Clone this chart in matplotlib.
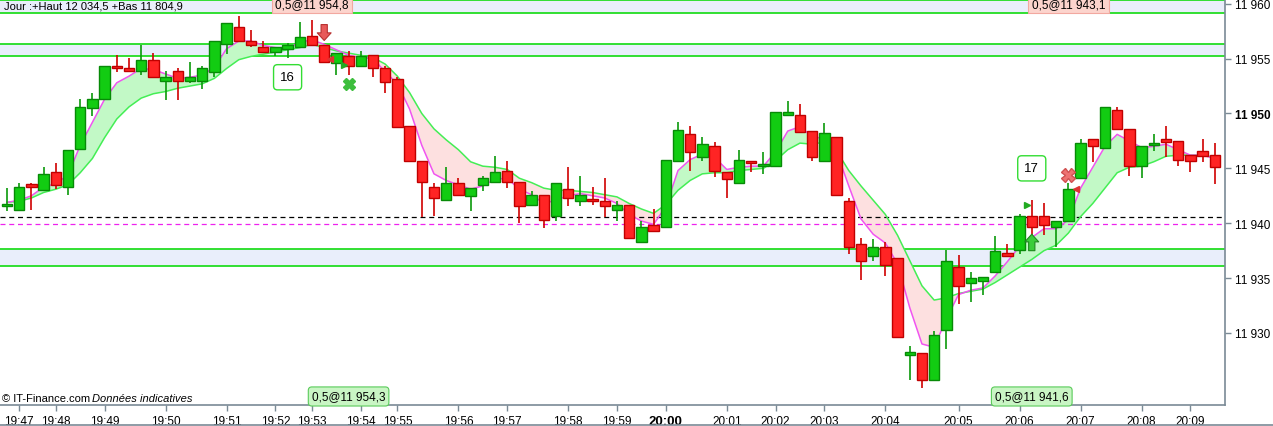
import matplotlib
matplotlib.use("Agg")
import matplotlib.pyplot as plt
import matplotlib.transforms as mtransforms
from matplotlib.lines import Line2D
import numpy as np

plt.rcParams['font.family'] = ['Liberation Sans', 'DejaVu Sans']

# ---------------- data ----------------
opens = [11941.6, 11941.2, 11943.6, 11943.0, 11944.7, 11943.3, 11946.8, 11950.5, 11951.3, 11954.3,
         11954.1, 11953.9, 11954.9, 11953.0, 11953.9, 11953.0, 11953.0, 11953.8, 11956.3, 11957.9,
         11956.6, 11956.1, 11955.6, 11955.9, 11956.1, 11957.1, 11956.2, 11954.6, 11955.2, 11954.3,
         11955.3, 11954.1, 11953.1, 11948.9, 11945.7, 11943.3, 11942.1, 11943.7, 11942.5, 11943.5,
         11943.8, 11944.8, 11943.8, 11941.7, 11942.6, 11940.7, 11943.1, 11942.0, 11942.2, 11942.0,
         11941.2, 11941.7, 11938.3, 11939.8, 11939.7, 11945.7, 11948.1, 11946.0, 11947.0, 11944.7,
         11943.7, 11945.7, 11945.2, 11945.2, 11949.9, 11949.9, 11948.4, 11945.7, 11947.9, 11942.0,
         11938.1, 11937.0, 11937.8, 11936.8, 11928.0, 11928.2, 11925.7, 11930.3, 11936.0, 11934.6,
         11934.7, 11935.6, 11937.3, 11937.6, 11940.7, 11940.7, 11939.7, 11940.2, 11944.1, 11947.7,
         11946.9, 11950.3, 11948.6, 11945.2, 11947.1, 11947.7, 11947.5, 11946.2, 11946.6, 11946.2]
highs = [11943.2, 11943.7, 11943.7, 11945.1, 11945.5, 11946.7, 11951.3, 11951.9, 11954.3, 11955.3,
         11955.1, 11956.2, 11955.5, 11953.9, 11954.1, 11954.7, 11954.3, 11956.6, 11958.2, 11958.9,
         11957.6, 11956.6, 11956.1, 11956.4, 11958.3, 11958.5, 11956.2, 11955.5, 11955.7, 11955.7,
         11955.3, 11954.3, 11953.3, 11948.9, 11945.7, 11943.7, 11945.1, 11944.1, 11943.2, 11944.3,
         11946.1, 11945.7, 11943.8, 11942.9, 11942.6, 11943.7, 11945.1, 11944.3, 11943.3, 11944.1,
         11942.0, 11941.7, 11940.2, 11941.3, 11945.8, 11949.2, 11948.9, 11947.9, 11947.4, 11944.7,
         11946.7, 11945.7, 11946.5, 11950.1, 11951.1, 11950.9, 11948.4, 11949.1, 11947.9, 11942.3,
         11938.7, 11938.6, 11938.3, 11936.8, 11928.8, 11928.2, 11930.2, 11937.6, 11937.1, 11935.6,
         11935.1, 11938.8, 11938.1, 11940.8, 11942.1, 11941.8, 11940.2, 11943.7, 11947.7, 11947.7,
         11950.6, 11950.6, 11948.6, 11947.0, 11948.1, 11948.9, 11947.5, 11946.2, 11947.7, 11947.3]
lows = [11941.1, 11941.2, 11941.2, 11943.0, 11943.1, 11942.6, 11946.8, 11949.8, 11951.3, 11953.8,
        11953.9, 11953.5, 11953.3, 11951.2, 11951.2, 11952.8, 11952.2, 11953.3, 11955.4, 11956.6,
        11956.1, 11955.6, 11955.2, 11955.1, 11956.1, 11956.2, 11954.7, 11953.5, 11953.5, 11954.3,
        11953.3, 11951.9, 11948.8, 11945.7, 11940.6, 11940.7, 11942.0, 11942.6, 11941.1, 11942.9,
        11943.8, 11943.2, 11940.0, 11941.6, 11939.6, 11940.2, 11941.6, 11941.6, 11941.7, 11940.6,
        11940.2, 11938.7, 11938.3, 11939.2, 11939.7, 11945.7, 11944.8, 11945.7, 11944.2, 11942.3,
        11943.7, 11944.7, 11944.5, 11945.2, 11949.8, 11948.3, 11945.7, 11945.7, 11942.6, 11937.2,
        11934.8, 11936.6, 11935.2, 11929.6, 11925.7, 11925.0, 11925.7, 11928.5, 11932.6, 11932.8,
        11933.5, 11935.6, 11937.0, 11937.2, 11938.9, 11938.9, 11937.8, 11940.2, 11944.1, 11945.6,
        11946.9, 11948.6, 11944.3, 11944.1, 11946.6, 11946.0, 11945.2, 11944.7, 11945.6, 11943.6]
closes = [11941.7, 11943.3, 11943.3, 11944.5, 11943.5, 11946.7, 11950.6, 11951.3, 11954.3, 11954.1,
          11953.9, 11954.9, 11953.3, 11953.3, 11953.0, 11953.3, 11954.1, 11956.6, 11958.2, 11956.6,
          11956.2, 11955.6, 11956.1, 11956.2, 11957.0, 11956.2, 11954.7, 11955.5, 11954.3, 11955.2,
          11954.1, 11952.9, 11948.8, 11945.7, 11943.8, 11942.3, 11943.7, 11942.6, 11943.2, 11944.1,
          11944.7, 11943.8, 11941.6, 11942.6, 11940.3, 11943.7, 11942.3, 11942.6, 11942.0, 11941.6,
          11941.7, 11938.7, 11939.7, 11939.3, 11945.8, 11948.5, 11946.5, 11947.2, 11944.8, 11944.0,
          11945.8, 11945.5, 11945.3, 11950.1, 11950.1, 11948.3, 11946.0, 11948.2, 11942.6, 11937.8,
          11936.6, 11937.8, 11936.2, 11929.6, 11928.3, 11925.7, 11929.8, 11936.6, 11934.3, 11935.0,
          11935.1, 11937.5, 11937.0, 11940.7, 11939.7, 11939.8, 11940.2, 11943.1, 11947.3, 11947.0,
          11950.6, 11948.6, 11945.2, 11947.0, 11947.3, 11947.4, 11945.8, 11945.7, 11946.1, 11945.1]

fast_ma = [11941.9, 11942.1, 11942.5, 11943.3, 11943.6, 11944.4, 11947.1, 11949.2, 11951.3, 11952.8,
           11953.4, 11954.1, 11954.0, 11953.6, 11953.2, 11953.3, 11953.5, 11954.2, 11955.9, 11956.6,
           11956.6, 11956.2, 11956.0, 11955.9, 11956.5, 11956.7, 11956.3, 11955.8, 11955.3, 11955.1,
           11955.0, 11953.8, 11952.7, 11950.4, 11947.1, 11944.5, 11943.9, 11943.5, 11943.1, 11943.4,
           11944.0, 11944.1, 11943.1, 11942.6, 11941.8, 11942.1, 11942.5, 11942.7, 11942.5, 11942.3,
           11941.8, 11940.8, 11940.2, 11939.9, 11941.5, 11944.8, 11945.8, 11946.3, 11946.0, 11944.9,
           11945.1, 11945.2, 11945.2, 11946.5, 11948.4, 11948.8, 11947.9, 11947.7, 11946.5, 11943.4,
           11940.4, 11939.0, 11938.2, 11936.3, 11932.3, 11929.0, 11928.7, 11931.3, 11933.5, 11933.9,
           11934.1, 11935.2, 11936.5, 11937.9, 11938.7, 11939.5, 11939.5, 11940.3, 11943.2, 11945.1,
           11947.0, 11948.1, 11947.5, 11946.9, 11947.0, 11947.2, 11946.7, 11946.2, 11946.2, 11945.9]
slow_ma = [11941.9, 11942.0, 11942.3, 11942.8, 11943.1, 11943.5, 11944.6, 11945.9, 11947.8, 11949.5,
           11950.6, 11951.4, 11951.8, 11952.0, 11952.3, 11952.5, 11952.7, 11953.2, 11954.1, 11954.9,
           11955.2, 11955.4, 11955.6, 11955.8, 11956.0, 11956.3, 11956.0, 11955.7, 11955.5, 11955.3,
           11955.1, 11954.5, 11953.4, 11951.9, 11950.0, 11948.6, 11947.6, 11946.7, 11945.6, 11945.2,
           11945.1, 11944.9, 11944.1, 11943.7, 11943.2, 11943.0, 11943.0, 11942.9, 11942.8, 11942.6,
           11942.4, 11941.8, 11941.3, 11940.9, 11941.7, 11943.0, 11943.9, 11944.5, 11944.6, 11944.6,
           11944.8, 11944.9, 11945.0, 11945.7, 11946.7, 11947.3, 11947.2, 11947.4, 11946.6, 11944.8,
           11943.4, 11942.1, 11940.8, 11938.9, 11936.6, 11934.3, 11933.0, 11933.2, 11933.6, 11933.8,
           11934.0, 11934.6, 11935.3, 11936.0, 11936.7, 11937.5, 11938.0, 11939.1, 11940.6, 11941.8,
           11943.2, 11944.6, 11945.1, 11945.2, 11945.6, 11946.1, 11946.2, 11946.2, 11946.2, 11946.0]

tick_idx = [1, 4, 8, 13, 18, 22, 25, 29, 32, 37, 41, 46, 50, 54, 59, 63, 67, 72, 78, 83, 88, 93, 97]
tick_labels = ["19:47", "19:48", "19:49", "19:50", "19:51", "19:52", "19:53", "19:54", "19:55",
               "19:56", "19:57", "19:58", "19:59", "20:00", "20:01", "20:02", "20:03", "20:04",
               "20:05", "20:06", "20:07", "20:08", "20:09"]
y_ticks = [11930, 11935, 11940, 11945, 11950, 11955, 11960]

bands = [(11959.2, 11960.3), (11955.2, 11956.3), (11936.1, 11937.65)]
black_level = 11940.55
magenta_level = 11939.9

top_labels = [(25, "0,5@11 954,8"), (87, "0,5@11 943,1")]
bottom_labels = [(28, "0,5@11 954,3"), (84, "0,5@11 941,6")]
count_boxes = [(23, 11953.3, "16"), (84, 11945.0, "17")]

# ---------------- figure ----------------
W, H = 1273, 427
fig = plt.figure(figsize=(W / 100, H / 100), dpi=100)
ax = fig.add_axes([0, 21 / H, 1225 / W, 406 / H])

n = len(opens)
x = np.arange(n)
o = np.array(opens); h = np.array(highs); l = np.array(lows); c = np.array(closes)
fast = np.array(fast_ma); slow = np.array(slow_ma)

# bands
for lo, hi in bands:
    ax.axhspan(lo, hi, color='#E9EEFB', zorder=0, lw=0)
    ax.axhline(lo, color='#22DD22', lw=1.3, zorder=1)
    ax.axhline(hi, color='#22DD22', lw=1.3, zorder=1)

# MA fills and lines
ax.fill_between(x, fast, slow, where=fast >= slow, interpolate=True, color='#C2F9C6', lw=0, zorder=1.5)
ax.fill_between(x, fast, slow, where=fast < slow, interpolate=True, color='#FDE0E0', lw=0, zorder=1.5)
ax.plot(x, slow, color='#44EE55', lw=1.1, zorder=2)
ax.plot(x, fast, color='#F055F0', lw=1.1, zorder=2.1)

# level lines
ax.axhline(black_level, color='black', lw=0.9, ls=(0, (4, 3)), zorder=1.6)
ax.axhline(magenta_level, color='#EE22EE', lw=0.9, ls=(0, (4, 3)), zorder=1.6)

# candles
up = c >= o
body_lo = np.minimum(o, c)
body_h = np.maximum(np.abs(c - o), 0.18)
wick_col = np.where(up, '#0A9A0A', '#D00000')
ax.vlines(x, l, h, colors=wick_col, lw=1.2, zorder=3)
ax.bar(x[up], body_h[up], bottom=body_lo[up], width=0.86, color='#12CC12',
       edgecolor='#078A07', lw=1.0, zorder=4)
ax.bar(x[~up], body_h[~up], bottom=body_lo[~up], width=0.86, color='#FF2424',
       edgecolor='#C00000', lw=1.0, zorder=4)

# markers
arrow_style = 'simple,head_width=1.0,head_length=0.55,tail_width=0.45'
ax.annotate('', xy=(26, 11956.65), xytext=(26, 11958.1),
            arrowprops=dict(arrowstyle=arrow_style, mutation_scale=10, shrinkA=0, shrinkB=0,
                            fc='#E85A5A', ec='#B83030', lw=0.8), zorder=6)
ax.annotate('', xy=(84, 11939.0), xytext=(84, 11937.5),
            arrowprops=dict(arrowstyle=arrow_style, mutation_scale=10, shrinkA=0, shrinkB=0,
                            fc='#3ACD3A', ec='#1E8A1E', lw=0.8), zorder=6)
ax.plot([28], [11952.7], marker='X', ms=9, color='#3DBE3D', mec='#3DBE3D', zorder=6)
ax.plot([87], [11944.4], marker='X', ms=10, color='#EE7272', mec='#D05050', zorder=6)
ax.plot([27.6], [11954.4], marker='>', ms=5, color='#22AA22', zorder=6)
ax.plot([26.5], [11955.0], marker='<', ms=5, color='#DD3333', zorder=6)
ax.plot([83.6], [11941.7], marker='>', ms=5, color='#22AA22', zorder=6)
ax.plot([87.6], [11943.1], marker='<', ms=5, color='#DD3333', zorder=6)

# label boxes
trans = mtransforms.blended_transform_factory(ax.transData, ax.transAxes)
for xi, txt in top_labels:
    ax.text(xi, 0.9885, txt, transform=trans, ha='center', va='center', fontsize=8.5, zorder=7,
            bbox=dict(boxstyle='square,pad=0.3', fc='#FCD4CD', ec='#F2A8A0', lw=0.8))
for xi, txt in bottom_labels:
    ax.text(xi, 0.021, txt, transform=trans, ha='center', va='center', fontsize=8.5, zorder=7,
            bbox=dict(boxstyle='round,pad=0.3,rounding_size=0.3', fc='#C9F5C4', ec='#5ACB5A', lw=0.8))
for xi, yv, txt in count_boxes:
    ax.text(xi, yv, txt, ha='center', va='center', fontsize=9.5, zorder=7,
            bbox=dict(boxstyle='round,pad=0.5,rounding_size=0.3', fc='white', ec='#33DD33', lw=1.0))

ax.text(0.003, 0.983, "Jour :+Haut 12 034,5 +Bas 11 804,9", transform=ax.transAxes,
        ha='left', va='center', fontsize=8, zorder=7)
ax.text(0.002, 0.018, "\u00a9 IT-Finance.com", transform=ax.transAxes,
        ha='left', va='center', fontsize=8, zorder=7)
ax.text(0.0755, 0.018, "Donn\u00e9es indicatives", transform=ax.transAxes,
        ha='left', va='center', fontsize=8, style='italic', zorder=7)

# axes styling
ax.set_xlim(-0.574, 99.84)
ax.set_ylim(11923.44, 11960.43)
for s in ['top', 'left']:
    ax.spines[s].set_visible(False)
for s in ['right', 'bottom']:
    ax.spines[s].set_color('#7A8A96')
    ax.spines[s].set_linewidth(1.2)
ax.yaxis.tick_right()
ax.set_yticks(y_ticks)
ax.set_yticklabels([f"{v // 1000} {v % 1000:03d}" for v in y_ticks])
ax.set_xticks(tick_idx)
ax.set_xticklabels(tick_labels)
ax.tick_params(axis='both', direction='out', length=4, width=1, color='#7A8A96',
               labelsize=8.5, pad=3)
ax.tick_params(axis='y', pad=3)
for lab, v in zip(ax.get_yticklabels(), y_ticks):
    if v == 11950:
        lab.set_fontweight('bold')
        lab.set_fontsize(8.5)
for lab, t in zip(ax.get_xticklabels(), tick_labels):
    if t == "20:00":
        lab.set_fontweight('bold')
        lab.set_fontsize(9.5)
ax.set_facecolor('white')

fig.add_artist(Line2D([0, 1], [0.8 / H, 0.8 / H], color='#7A8A96', lw=1.2,
                      transform=fig.transFigure))

fig.savefig("out.png", dpi=100)
